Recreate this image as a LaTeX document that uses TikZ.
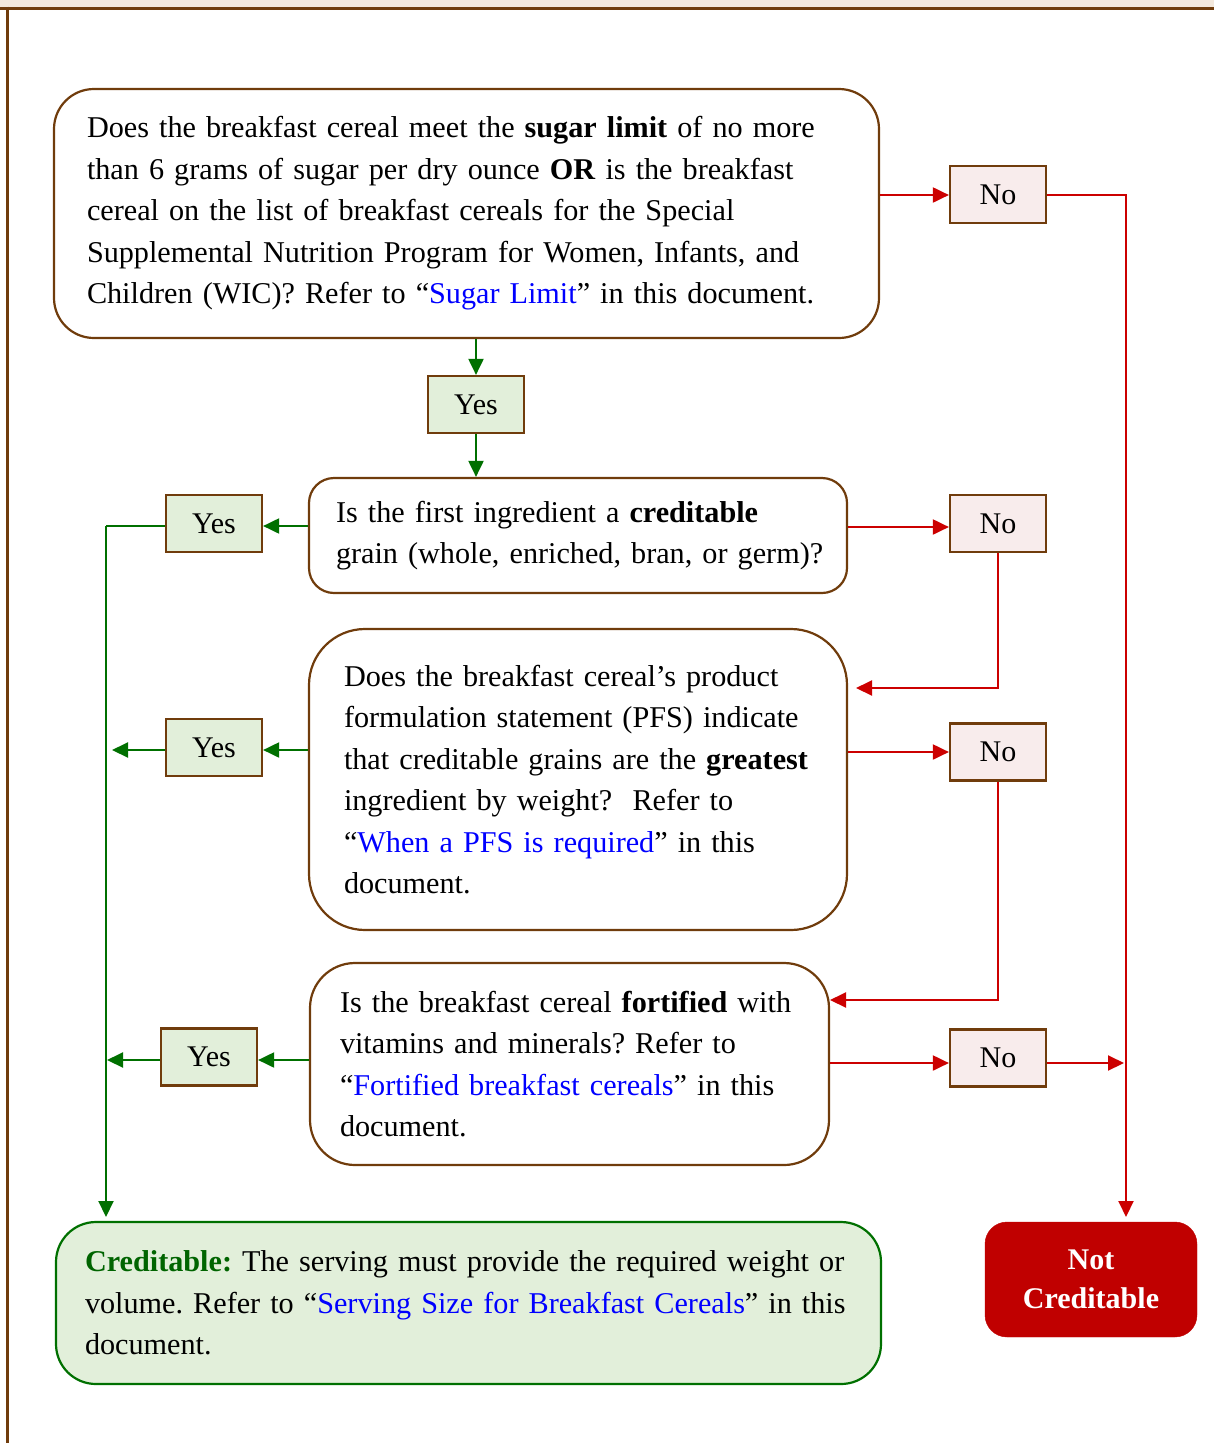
\documentclass[tikz,border=0pt]{standalone}
\usepackage{fontspec}
\setmainfont{Liberation Serif}
\usetikzlibrary{arrows.meta,calc}
\definecolor{brownC}{RGB}{112,60,12}
\definecolor{beigeC}{RGB}{243,232,220}
\definecolor{yesfill}{RGB}{226,239,218}
\definecolor{nofill}{RGB}{248,236,236}
\definecolor{greenC}{RGB}{0,112,0}
\definecolor{credtxt}{RGB}{0,100,0}
\definecolor{redC}{RGB}{204,0,0}
\definecolor{notfill}{RGB}{192,0,0}
\definecolor{linkC}{RGB}{0,0,255}
\newcommand{\lnk}[1]{\textcolor{linkC}{#1}}
\newcommand{\oneline}[1]{\mbox{#1}}
\frenchspacing
\begin{document}
\begin{tikzpicture}[x=1pt,y=-1pt,
  txt/.style={font=\fontsize{30.2}{41.5}\selectfont\frenchspacing},
  qbox/.style={draw=brownC, line width=2.2pt, fill=white, align=left, inner ysep=0pt, txt},
  yesbox/.style={draw=brownC, line width=2.2pt, fill=yesfill, minimum width=96pt, minimum height=57pt, inner sep=0pt, font=\fontsize{30}{36}\selectfont},
  nobox/.style={draw=brownC, line width=2.2pt, fill=nofill, minimum width=96pt, minimum height=57pt, inner sep=0pt, font=\fontsize{30}{36}\selectfont},
  garrow/.style={draw=greenC, line width=2pt, -{Triangle[length=16pt,width=15pt]}},
  gline/.style={draw=greenC, line width=2pt},
  rarrow/.style={draw=redC, line width=2pt, -{Triangle[length=16pt,width=15pt]}},
]
\useasboundingbox (0,0) rectangle (1214,1443);
% frame
\fill[beigeC] (0,0) rectangle (1214,8);
\draw[brownC, line width=3pt] (0,8) -- (1214,8);
\draw[brownC, line width=3pt] (7,6.5) -- (7,1443);

% question 1
\node[qbox, rounded corners=40pt, minimum width=825pt, minimum height=249pt, text width=759pt, inner xsep=33pt] (q1) at (466.5,213.5)
 {\oneline{Does the breakfast cereal meet the \textbf{sugar limit} of no more}\\
  \oneline{than 6 grams of sugar per dry ounce \textbf{OR} is the breakfast}\\
  \oneline{cereal on the list of breakfast cereals for the Special}\\
  \oneline{Supplemental Nutrition Program for Women, Infants, and}\\
  \oneline{Children (WIC)? Refer to “\lnk{Sugar Limit}” in this document.}};
\node[nobox] (no1) at (998,194.5) {No};
\node[yesbox] (yes1) at (476,404.5) {Yes};

% question 2
\node[qbox, rounded corners=25pt, minimum width=538pt, minimum height=115pt, text width=484pt, inner xsep=27pt] (q2) at (578,535.5)
 {\oneline{Is the first ingredient a \textbf{creditable}}\\
  \oneline{grain (whole, enriched, bran, or germ)?}};
\node[yesbox] (yes2) at (214,523.5) {Yes};
\node[nobox] (no2) at (998,523.5) {No};

% question 3
\node[qbox, rounded corners=56pt, minimum width=538pt, minimum height=301pt, text width=468pt, inner xsep=35pt] (q3) at (578,779.5)
 {\oneline{Does the breakfast cereal’s product}\\
  \oneline{formulation statement (PFS) indicate}\\
  \oneline{that creditable grains are the \textbf{greatest}}\\
  \oneline{ingredient by weight?\ \ Refer to}\\
  \oneline{“\lnk{When a PFS is required}” in this}\\
  \oneline{document.}};
\node[yesbox] (yes3) at (214,747.5) {Yes};
\node[nobox] (no3) at (998,752) {No};

% question 4
\node[qbox, rounded corners=45pt, minimum width=519pt, minimum height=202pt, text width=459pt, inner xsep=30pt] (q4) at (569.5,1064)
 {\oneline{Is the breakfast cereal \textbf{fortified} with}\\
  \oneline{vitamins and minerals? Refer to}\\
  \oneline{“\lnk{Fortified breakfast cereals}” in this}\\
  \oneline{document.}};
\node[yesbox] (yes4) at (209,1057) {Yes};
\node[nobox] (no4) at (998,1058) {No};

% outcomes
\node[draw=greenC, line width=2.2pt, fill=yesfill, rounded corners=40pt, align=left, txt, minimum width=825pt, minimum height=162pt, text width=767pt, inner xsep=29pt, inner ysep=0pt] (cred) at (468.5,1303)
 {\oneline{\textcolor{credtxt}{\textbf{Creditable:}} The serving must provide the required weight or}\\
  \oneline{volume. Refer to “\lnk{Serving Size for Breakfast Cereals}” in this}\\
  \oneline{document.}};
\node[fill=notfill, draw=notfill, rounded corners=22pt, minimum width=212pt, minimum height=115pt, align=center, text=white, font=\fontsize{30}{39}\selectfont\bfseries, inner sep=0pt] (notc) at (1091,1279.5)
 {Not\\Creditable};

% coordinates
\coordinate (trunkTop) at (106,526);
\coordinate (credIn) at (106,1217);
\coordinate (redTop) at (1126,195);
\coordinate (notIn) at (1126,1217);
\coordinate (no2turn) at (998,688);
\coordinate (q3in) at (856,688);
\coordinate (no3turn) at (998,1000);
\coordinate (q4in) at (830,1000);
\coordinate (yes3out) at (112,750);
\coordinate (yes4out) at (107,1060);
\coordinate (no4out) at (1124,1063);

% green connectors
\draw[garrow] (yes1.north |- q1.south) -- (yes1.north);
\draw[garrow] (yes1.south) -- (yes1.south |- q2.north);
\draw[garrow] (q2.west |- 0,526) -- (yes2.east |- 0,526);
\draw[gline] (yes2.west |- 0,526) -- (trunkTop);
\draw[garrow] (trunkTop) -- (credIn);
\draw[garrow] (q3.west |- 0,750) -- (yes3.east |- 0,750);
\draw[garrow] (yes3.west |- 0,750) -- (yes3out);
\draw[garrow] (q4.west |- 0,1060) -- (yes4.east |- 0,1060);
\draw[garrow] (yes4.west |- 0,1060) -- (yes4out);

% red connectors
\draw[rarrow] (q1.east |- 0,195) -- (no1.west |- 0,195);
\draw[rarrow] (no1.east |- 0,195) -- (redTop) -- (notIn);
\draw[rarrow] (q2.east |- 0,527) -- (no2.west |- 0,527);
\draw[rarrow] (no2.south) -- (no2turn) -- (q3in);
\draw[rarrow] (q3.east |- 0,752) -- (no3.west |- 0,752);
\draw[rarrow] (no3.south) -- (no3turn) -- (q4in);
\draw[rarrow] (q4.east |- 0,1063) -- (no4.west |- 0,1063);
\draw[rarrow] (no4.east |- 0,1063) -- (no4out);
\end{tikzpicture}
\end{document}
